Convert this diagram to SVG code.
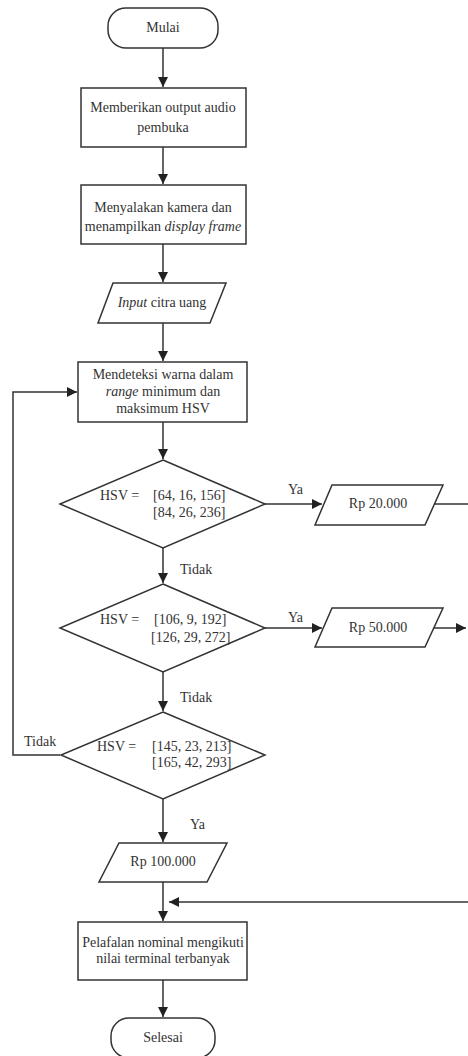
<svg xmlns="http://www.w3.org/2000/svg" width="468" height="1056" viewBox="0 0 468 1056">
<style>
.s{fill:#fff;stroke:#333;stroke-width:1.5}
.t{font-family:'Liberation Serif','DejaVu Serif',serif;font-size:14px;fill:#333;text-anchor:middle}
.l{font-family:'Liberation Serif','DejaVu Serif',serif;font-size:14px;fill:#333}
.c{fill:none;stroke:#333;stroke-width:1.5}
</style>
<defs>
<marker id="a" viewBox="0 0 10 10" refX="10" refY="5" markerWidth="10" markerHeight="10" markerUnits="userSpaceOnUse" orient="auto">
<path d="M0,0 L10,5 L0,10 Z" fill="#222"/>
</marker>
</defs>
<rect width="468" height="1056" fill="#fff"/>
<g id="connectors">
<path class="c" d="M163,48 V87" marker-end="url(#a)"/>
<path class="c" d="M163,147 V184" marker-end="url(#a)"/>
<path class="c" d="M163,244 V282" marker-end="url(#a)"/>
<path class="c" d="M163,323 V361" marker-end="url(#a)"/>
<path class="c" d="M163,422 V459" marker-end="url(#a)"/>
<path class="c" d="M163,548 V583" marker-end="url(#a)"/>
<path class="c" d="M163,672 V711" marker-end="url(#a)"/>
<path class="c" d="M163,799 V842" marker-end="url(#a)"/>
<path class="c" d="M163,882 V921" marker-end="url(#a)"/>
<path class="c" d="M163,980 V1017" marker-end="url(#a)"/>
<path class="c" d="M265,504 H322" marker-end="url(#a)"/>
<path class="c" d="M265,628 H322" marker-end="url(#a)"/>
<path class="c" d="M434,504 H468"/>
<path class="c" d="M434,628 H466" marker-end="url(#a)"/>
<path class="c" d="M468,902 H169" marker-end="url(#a)"/>
<path class="c" d="M60,755 H13 V392 H77" marker-end="url(#a)"/>
<text class="l" x="288" y="494">Ya</text>
<text class="l" x="288" y="622">Ya</text>
<text class="l" x="180" y="574">Tidak</text>
<text class="l" x="180" y="702">Tidak</text>
<text class="l" x="24" y="746">Tidak</text>
<text class="l" x="190" y="829">Ya</text>
</g>
<g id="mulai">
<rect class="s" x="108" y="8" width="110" height="40" rx="18"/>
<text class="t" x="163" y="32">Mulai</text>
</g>
<g id="output-audio">
<rect class="s" x="81" y="88" width="165" height="59"/>
<text class="t" x="163" y="112">Memberikan output audio</text>
<text class="t" x="163" y="132">pembuka</text>
</g>
<g id="kamera">
<rect class="s" x="81" y="185" width="165" height="59"/>
<text class="t" x="163" y="212">Menyalakan kamera dan</text>
<text class="t" x="163" y="231">menampilkan <tspan font-style="italic">display frame</tspan></text>
</g>
<g id="input">
<polygon class="s" points="113,283 226,283 210,323 98,323"/>
<text class="t" x="162" y="307"><tspan font-style="italic">Input</tspan> citra uang</text>
</g>
<g id="deteksi">
<rect class="s" x="78" y="362" width="169" height="60"/>
<text class="t" x="163" y="379">Mendeteksi warna dalam</text>
<text class="t" x="163" y="396"><tspan font-style="italic">range</tspan> minimum dan</text>
<text class="t" x="163" y="413">maksimum HSV</text>
</g>
<g id="hsv1">
<polygon class="s" points="163,460 265,504 163,548 60,504"/>
<text class="l" x="100" y="500">HSV =</text>
<text class="l" x="153" y="500">[64, 16, 156]</text>
<text class="l" x="153" y="517">[84, 26, 236]</text>
</g>
<g id="hsv2">
<polygon class="s" points="163,584 265,628 163,672 60,628"/>
<text class="l" x="100" y="624">HSV =</text>
<text class="l" x="154" y="624">[106, 9, 192]</text>
<text class="l" x="151" y="642">[126, 29, 272]</text>
</g>
<g id="hsv3">
<polygon class="s" points="163,712 265,755 163,799 61,755"/>
<text class="l" x="97" y="751">HSV =</text>
<text class="l" x="152" y="751">[145, 23, 213]</text>
<text class="l" x="152" y="767">[165, 42, 293]</text>
</g>
<g id="rp20">
<polygon class="s" points="332,485 443,485 425,525 315,525"/>
<text class="t" x="378" y="508">Rp 20.000</text>
</g>
<g id="rp50">
<polygon class="s" points="332,608 443,608 425,647 315,647"/>
<text class="t" x="378" y="632">Rp 50.000</text>
</g>
<g id="rp100">
<polygon class="s" points="119,843 227,843 207,882 99,882"/>
<text class="t" x="163" y="866">Rp 100.000</text>
</g>
<g id="pelafalan">
<rect class="s" x="78" y="922" width="169" height="58"/>
<text class="t" x="163" y="947">Pelafalan nominal mengikuti</text>
<text class="t" x="163" y="963">nilai terminal terbanyak</text>
</g>
<g id="selesai">
<rect class="s" x="111" y="1018" width="104" height="40" rx="18"/>
<text class="t" x="163" y="1042">Selesai</text>
</g>
</svg>
